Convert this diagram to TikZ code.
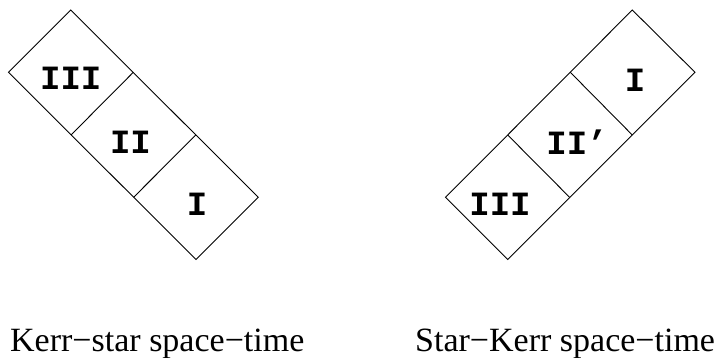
\documentclass[tikz,border=0pt]{standalone}
\usepackage{fontspec}
\setmainfont{Liberation Serif}
\newfontfamily\labfont{Liberation Mono}[BoldFont={Liberation Mono Bold}]
\begin{document}
\begin{tikzpicture}[x=1pt,y=-1pt,
  cell/.style={draw=black,line width=0.9pt,line join=miter},
  region/.style={font=\labfont\bfseries\fontsize{34}{34}\selectfont,inner sep=0pt},
  caption/.style={font=\fontsize{34}{34}\selectfont,inner sep=0pt,anchor=base west}]
\useasboundingbox (0,0) rectangle (720,358);
% left diagram: Kerr-star
\coordinate (LT) at (70.7,10);
\coordinate (LL) at (8.5,72.3);
\coordinate (LA) at (133.3,72.3);
\coordinate (LB) at (71,135);
\coordinate (LC) at (195.8,135);
\coordinate (LD) at (133.6,197.3);
\coordinate (LR) at (258.3,197.3);
\coordinate (LBot) at (196,259.5);
\draw[cell] (LT) -- (LR) -- (LBot) -- (LL) -- cycle;
\draw[cell] (LA) -- (LB);
\draw[cell] (LC) -- (LD);
\node[region] (l3) at (70.8,78.7) {III};
\node[region] (l2) at (130.5,142.3) {II};
\node[region] (l1) at (197,204) {I};
% right diagram: Star-Kerr
\coordinate (RT) at (632.3,10);
\coordinate (RR) at (695,72.3);
\coordinate (RA) at (570.3,72.3);
\coordinate (RB) at (632.3,135);
\coordinate (RC) at (507.7,135);
\coordinate (RD) at (569.6,197.3);
\coordinate (RL) at (445.5,197.3);
\coordinate (RBot) at (507.7,259.5);
\draw[cell] (RT) -- (RR) -- (RBot) -- (RL) -- cycle;
\draw[cell] (RA) -- (RB);
\draw[cell] (RC) -- (RD);
\node[region] (r1) at (635,80.8) {I};
\node[region] (r2) at (577,142.5) {II’};
\node[region] (r3) at (500,204) {III};
% captions
\node[caption] (capL) at (10,351.7) {Kerr−star space−time};
\node[caption] (capR) at (415,351.7) {Star−Kerr space−time};
\end{tikzpicture}
\end{document}
